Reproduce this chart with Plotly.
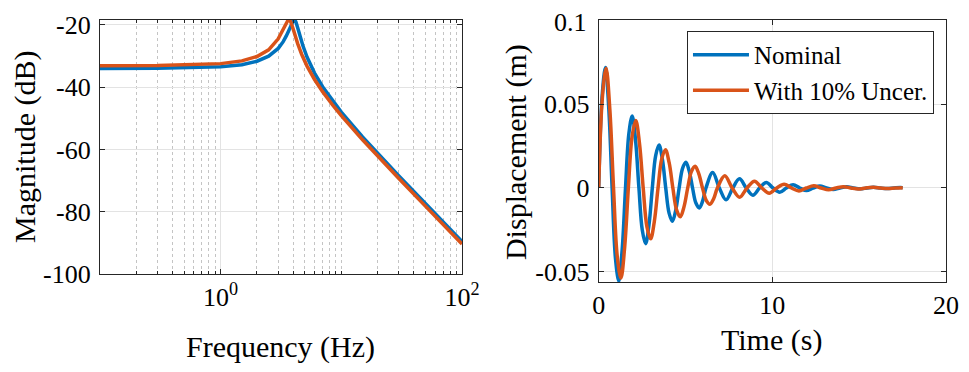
import plotly.graph_objects as go

# ---- frequency response (magnitude, dB) ----
freq_nom = [0.1, 0.3, 1, 1.5, 2, 2.5, 3, 3.3, 3.5, 3.7, 3.85, 3.95, 4.05, 4.1, 4.2,
            4.35, 4.5, 4.8, 5.2, 6, 7, 8.5, 10, 15, 20, 30, 50, 70, 100]
mag_nom = [-33.97, -33.93, -33.45, -32.74, -31.64, -30.01, -27.52, -25.36, -23.51,
           -21.29, -19.54, -18.61, -18.21, -18.29, -18.98, -20.85, -22.94, -26.61,
           -30.32, -35.45, -39.83, -44.49, -47.99, -55.93, -61.22, -68.47, -77.44,
           -83.32, -89.53]

freq_unc = [0.1, 0.3, 1, 1.5, 2, 2.5, 3, 3.3, 3.45, 3.55, 3.65, 3.72, 3.8, 3.95, 4.1,
            4.35, 4.7, 5.2, 6, 7, 8.5, 10, 15, 20, 30, 50, 70, 100]
mag_unc = [-33.06, -33.01, -32.41, -31.53, -30.13, -27.96, -24.44, -21.30, -19.56,
           -18.61, -18.17, -18.29, -18.86, -20.70, -22.81, -25.97, -29.47, -33.20,
           -37.50, -41.42, -45.77, -49.12, -56.88, -62.12, -69.33, -78.28, -84.15,
           -90.36]

# ---- time response (displacement, m) ----
t_nom = [0, 0.193, 0.386, 0.579, 0.772, 0.965, 1.158, 1.351, 1.544, 1.737, 1.930,
         2.123, 2.316, 2.509, 2.702, 2.895, 3.088, 3.281, 3.474, 3.667, 3.860, 4.053,
         4.246, 4.439, 4.632, 4.825, 5.019, 5.212, 5.405, 5.598, 5.791, 5.984, 6.177,
         6.563, 6.949, 7.335, 7.721, 8.107, 8.493, 8.879, 9.265, 9.651, 10.037,
         10.423, 10.809, 11.195, 11.581, 11.967, 12.353, 12.739, 13.125, 13.511,
         13.897, 14.283, 14.669, 15.056, 15.442, 15.828, 16.214, 16.600, 16.986,
         17.372, 17.5]
x_nom = [0, 0.0543, 0.0720, 0.0478, 0, -0.0420, -0.0557, -0.0369,
         0, 0.0325, 0.0431, 0.0285, 0, -0.0251, -0.0333, -0.0221,
         0, 0.0194, 0.0257, 0.0171, 0, -0.0150, -0.0199, -0.0132,
         0, 0.0116, 0.0154, 0.0102, 0, -0.0090, -0.0119, -0.0079,
         0, 0.0092, 0, -0.0071, 0, 0.0055, 0, -0.0043, 0, 0.0033, 0,
         -0.0025, 0, 0.0020, 0, -0.0015, 0, 0.0012, 0, -0.0009,
         0, 0.0007, 0, -0.0005, 0, 0.0004, 0, -0.0003, 0,
         0.0003, 0.0002]

t_unc = [0, 0.2135, 0.4271, 0.6406, 0.8542, 1.0677, 1.2812, 1.4948, 1.7083, 1.9219,
         2.1354, 2.3489, 2.5625, 2.7760, 2.9896, 3.2031, 3.4166, 3.6302, 3.8437,
         4.0573, 4.2708, 4.4843, 4.6979, 4.9114, 5.1250, 5.3385, 5.5520, 5.7656,
         5.9791, 6.1927, 6.4062, 6.6197, 6.8333, 7.2604, 7.6874, 8.1145, 8.5416,
         8.9687, 9.3958, 9.8228, 10.2499, 10.6770, 11.1041, 11.5312, 11.9582,
         12.3853, 12.8124, 13.2395, 13.6666, 14.0936, 14.5207, 14.9478, 15.3749,
         15.8020, 16.2290, 16.6561, 17.0832, 17.5103]
x_unc = [0, 0.0543, 0.0715, 0.0471, 0, -0.0408, -0.0538, -0.0354,
         0, 0.0307, 0.0404, 0.0266, 0, -0.0231, -0.0304, -0.0200,
         0, 0.0174, 0.0229, 0.0151, 0, -0.0131, -0.0172, -0.0113,
         0, 0.0098, 0.0130, 0.0085, 0, -0.0074, -0.0097, -0.0064,
         0, 0.0073, 0, -0.0055, 0, 0.0041, 0, -0.0031, 0, 0.0023, 0,
         -0.0018, 0, 0.0013, 0, -0.0010, 0, 0.0008, 0, -0.0006, 0,
         0.0004, 0, -0.0003, 0, 0.0002]

series_names = ["Nominal", "With 10% Uncer."]
colors = ["#0072BD", "#D95319"]

mag_ticks = [-100, -80, -60, -40, -20]
disp_ticks = [-0.05, 0, 0.05, 0.1]
disp_labels = ["-0.05", "0", "0.05", "0.1"]

FONT = "Liberation Serif"
AX = "#262626"
GRID = "#E3E3E3"

fig = go.Figure()

fig.add_trace(go.Scatter(x=freq_nom, y=mag_nom, mode="lines", showlegend=False,
                         line=dict(color=colors[0], width=3.5), xaxis="x", yaxis="y"))
fig.add_trace(go.Scatter(x=freq_unc, y=mag_unc, mode="lines", showlegend=False,
                         line=dict(color=colors[1], width=3.5), xaxis="x", yaxis="y"))
fig.add_trace(go.Scatter(x=t_nom, y=x_nom, mode="lines", name=series_names[0],
                         line=dict(color=colors[0], width=3.5, shape="spline", smoothing=1),
                         xaxis="x2", yaxis="y2"))
fig.add_trace(go.Scatter(x=t_unc, y=x_unc, mode="lines", name=series_names[1],
                         line=dict(color=colors[1], width=3.5, shape="spline", smoothing=1),
                         xaxis="x2", yaxis="y2"))

minor_freqs = [m * 10 ** e for e in (-1, 0, 1) for m in range(2, 10)] + [10]

common = dict(showline=True, linecolor=AX, linewidth=1, mirror="ticks",
              ticks="inside", ticklen=5, tickcolor=AX, showgrid=True,
              gridcolor=GRID, gridwidth=1, zeroline=False, automargin=False,
              tickfont=dict(family=FONT, size=26, color="black"))

# the page puts the figure 8 px in from the top-left corner, so domains are
# shifted by that amount
fig.update_layout(
    width=969, height=372,
    margin=dict(l=0, r=0, t=0, b=0),
    paper_bgcolor="white", plot_bgcolor="white",
    font=dict(family=FONT, color="black"),
    xaxis=dict(common, type="log", range=[-1, 2], domain=[0.0949, 0.4685],
               tickvals=[1, 100], ticktext=["10<sup>0</sup>", "10<sup>2</sup>"],
               anchor="y",
               minor=dict(tickvals=minor_freqs, ticks="inside", ticklen=3,
                          tickcolor=AX, showgrid=True, gridcolor="#C4C4C4",
                          griddash="dot", gridwidth=1)),
    yaxis=dict(common, range=[-100, -18.4], domain=[0.2849, 0.9677],
               tickvals=mag_ticks, ticktext=[str(v) for v in mag_ticks], anchor="x",
               ticklabelstandoff=3),
    xaxis2=dict(common, range=[0, 20], domain=[0.6096, 0.9680], tickvals=[0, 10, 20],
                anchor="y2"),
    yaxis2=dict(common, range=[-0.0562, 0.1002], domain=[0.2634, 0.9668],
                tickvals=disp_ticks, ticktext=disp_labels, anchor="x2",
                ticklabelstandoff=3),
    legend=dict(x=0.9556, y=0.9382, xanchor="right", yanchor="top",
                bgcolor="white", bordercolor=AX, borderwidth=1,
                font=dict(family=FONT, size=25, color="black"),
                tracegroupgap=0, itemwidth=56),
)

# plotly drops the top tick label because it touches the page edge; draw it
# as text at the same place
fig.add_annotation(text=disp_labels[-1], x=0.5996, y=disp_ticks[-1], xref="paper",
                   yref="y2", xanchor="right", yanchor="middle", yshift=-2,
                   showarrow=False, font=dict(family=FONT, size=26, color="black"))

titles = [
    dict(text="Frequency (Hz)", x=0.2817, y=0.0887, textangle=0),
    dict(text="Magnitude (dB)", x=0.0175, y=0.6263, textangle=-90),
    dict(text="Time (s)", x=0.7884, y=0.1075, textangle=0),
    dict(text="Displacement (m)", x=0.5243, y=0.6129, textangle=-90),
]
for t in titles:
    fig.add_annotation(text=t["text"], x=t["x"], y=t["y"], xref="paper", yref="paper",
                       xanchor="center", yanchor="middle", showarrow=False,
                       textangle=t["textangle"],
                       font=dict(family=FONT, size=30, color="black"))

fig.write_html("out.html")
